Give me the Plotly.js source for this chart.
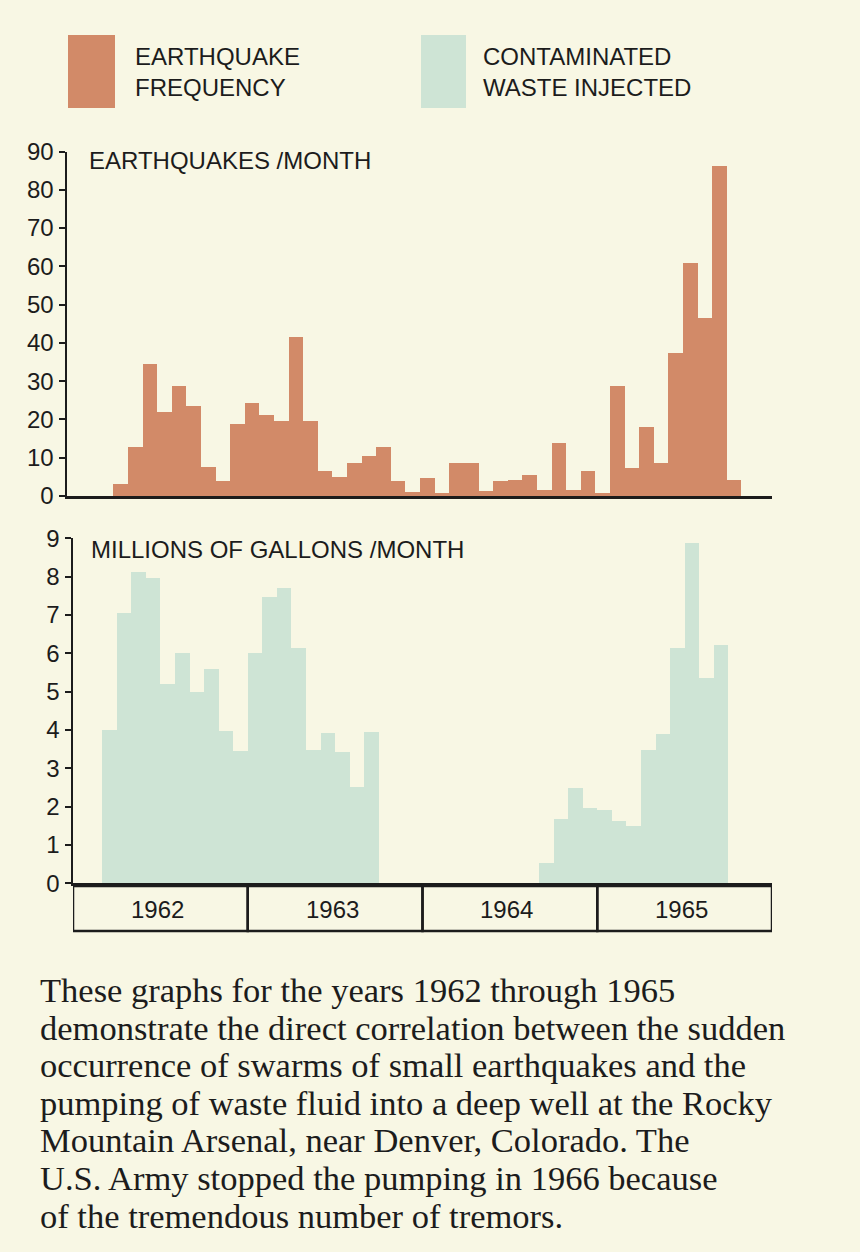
<!DOCTYPE html>
<html><head><meta charset="utf-8">
<script src="https://cdn.plot.ly/plotly-3.0.1.min.js"></script>
<style>html,body{margin:0;padding:0;background:#f8f7e4;}</style>
</head><body><div id="chart" style="width:860px;height:1252px;"></div>
<script>
// ---- DATA ----
const years = ['1962', '1963', '1964', '1965'];
// month index 0 = January 1962
const quakeStartMonth = 3; // April 1962
const quakesPerMonth = [3.1, 12.7, 34.5, 22.0, 28.8, 23.5, 7.5, 4.0, 18.8, 24.2,
  21.1, 19.6, 41.5, 19.6, 6.6, 4.9, 8.7, 10.5, 12.9, 3.9,
  1.0, 4.6, 0.9, 8.7, 8.7, 1.3, 4.0, 4.2, 5.5, 1.6,
  13.8, 1.6, 6.6, 0.7, 28.8, 7.2, 17.9, 8.5, 37.3, 60.9,
  46.6, 86.2, 4.2];
const injection1StartMonth = 2; // March 1962
const gallonsPeriod1 = [4.0, 7.05, 8.13, 7.97, 5.19, 6.0, 4.98, 5.58, 3.98, 3.46,
  6.0, 7.48, 7.71, 6.13, 3.48, 3.93, 3.42, 2.52, 3.94];
const injection2StartMonth = 32; // September 1964
const gallonsPeriod2 = [0.52, 1.68, 2.48, 1.96, 1.91, 1.63, 1.5, 3.48, 3.89, 6.13,
  8.89, 5.36, 6.22];
const quakeTicks = [0, 10, 20, 30, 40, 50, 60, 70, 80, 90];
const gallonTicks = [0, 1, 2, 3, 4, 5, 6, 7, 8, 9];
const legendLabels = ['EARTHQUAKE<br>FREQUENCY', 'CONTAMINATED<br>WASTE INJECTED'];
const topTitle = 'EARTHQUAKES /MONTH';
const bottomTitle = 'MILLIONS OF GALLONS /MONTH';
const captionLines = [
  'These graphs for the years 1962 through 1965',
  'demonstrate the direct correlation between the sudden',
  'occurrence of swarms of small earthquakes and the',
  'pumping of waste fluid into a deep well at the Rocky',
  'Mountain Arsenal, near Denver, Colorado. The',
  'U.S. Army stopped the pumping in 1966 because',
  'of the tremendous number of tremors.'
];

// ---- STYLE ----
const W = 860, H = 1252;
const px = x => x / W;
const py = y => 1 - y / H;
const BG = '#f8f7e4';
const ORANGE = '#d28a68';
const GREEN = '#cee4d5';
const INK = '#1c1c1c';
const SANS = 'Liberation Sans, Arial, sans-serif';
const SERIF = 'Liberation Serif, Times New Roman, serif';

const monthCenters = (start, arr) => arr.map((_, i) => start + i + 0.5);

const traces = [
  {type: 'bar', x: monthCenters(quakeStartMonth, quakesPerMonth), y: quakesPerMonth,
   width: 1, marker: {color: ORANGE, line: {width: 0}}, xaxis: 'x', yaxis: 'y',
   name: 'Earthquake frequency', hoverinfo: 'y'},
  {type: 'bar', x: monthCenters(injection1StartMonth, gallonsPeriod1), y: gallonsPeriod1,
   width: 1, marker: {color: GREEN, line: {width: 0}}, xaxis: 'x2', yaxis: 'y2',
   name: 'Contaminated waste injected', hoverinfo: 'y'},
  {type: 'bar', x: monthCenters(injection2StartMonth, gallonsPeriod2), y: gallonsPeriod2,
   width: 1, marker: {color: GREEN, line: {width: 0}}, xaxis: 'x2', yaxis: 'y2',
   name: 'Contaminated waste injected', hoverinfo: 'y'}
];

const axisCommon = {showgrid: false, zeroline: false, linecolor: INK, linewidth: 2.5, showline: true};

const shapes = [];
const annotations = [];

// year box under bottom chart
years.forEach((yr, i) => {
  shapes.push({type: 'rect', xref: 'x2', yref: 'paper', x0: i * 12, x1: (i + 1) * 12,
    y0: py(931), y1: py(886), line: {color: INK, width: 2.5}, fillcolor: 'rgba(0,0,0,0)'});
  annotations.push({xref: 'x2', yref: 'paper', x: i * 12 + 5.8, y: py(910), text: yr,
    showarrow: false, xanchor: 'center', yanchor: 'middle', font: {family: SANS, size: 24, color: INK}});
});

// legend swatches
[[68, 115, ORANGE, 133], [421, 466, GREEN, 481]].forEach((s, i) => {
  shapes.push({type: 'rect', xref: 'paper', yref: 'paper', x0: px(s[0]), x1: px(s[1]),
    y0: py(108), y1: py(35), line: {width: 0}, fillcolor: s[2]});
  annotations.push({xref: 'paper', yref: 'paper', x: px(s[3]), y: py(72), text: legendLabels[i],
    showarrow: false, xanchor: 'left', yanchor: 'middle', align: 'left',
    font: {family: SANS, size: 24, color: INK}});
});

// chart titles
annotations.push({xref: 'paper', yref: 'paper', x: px(87), y: py(161), text: topTitle, showarrow: false,
  xanchor: 'left', yanchor: 'middle', font: {family: SANS, size: 24, color: INK}});
annotations.push({xref: 'paper', yref: 'paper', x: px(89), y: py(549), text: bottomTitle, showarrow: false,
  xanchor: 'left', yanchor: 'middle', font: {family: SANS, size: 24, color: INK}});

// caption
captionLines.forEach((line, i) => {
  annotations.push({xref: 'paper', yref: 'paper', x: px(38), y: py(990 + 37.6 * i), text: line,
    showarrow: false, xanchor: 'left', yanchor: 'middle', align: 'left',
    font: {family: SERIF, size: 34.5, color: INK}});
});

const layout = {
  width: W, height: H,
  margin: {l: 0, r: 0, t: 0, b: 0},
  paper_bgcolor: BG, plot_bgcolor: BG,
  showlegend: false, bargap: 0,
  xaxis: Object.assign({}, axisCommon, {domain: [px(67), px(772)], range: [-0.17, 48.09],
    anchor: 'y', showticklabels: false, ticks: ''}),
  yaxis: Object.assign({}, axisCommon, {domain: [py(496), py(151.5)], range: [0, 90], anchor: 'x',
    tickmode: 'array', tickvals: quakeTicks, ticktext: quakeTicks.map(String),
    ticks: 'outside', ticklen: 6, tickwidth: 2, tickcolor: INK,
    tickfont: {family: SANS, size: 24, color: INK}}),
  xaxis2: Object.assign({}, axisCommon, {domain: [px(73), px(772)], range: [0, 48],
    anchor: 'y2', showticklabels: false, ticks: ''}),
  yaxis2: Object.assign({}, axisCommon, {domain: [py(883.3), py(538.3)], range: [0, 9], anchor: 'x2',
    tickmode: 'array', tickvals: gallonTicks, ticktext: gallonTicks.map(String),
    ticks: 'outside', ticklen: 6, tickwidth: 2, tickcolor: INK,
    tickfont: {family: SANS, size: 24, color: INK}}),
  shapes: shapes,
  annotations: annotations
};

Plotly.newPlot('chart', traces, layout, {displayModeBar: false, staticPlot: true});
</script>
</body></html>
